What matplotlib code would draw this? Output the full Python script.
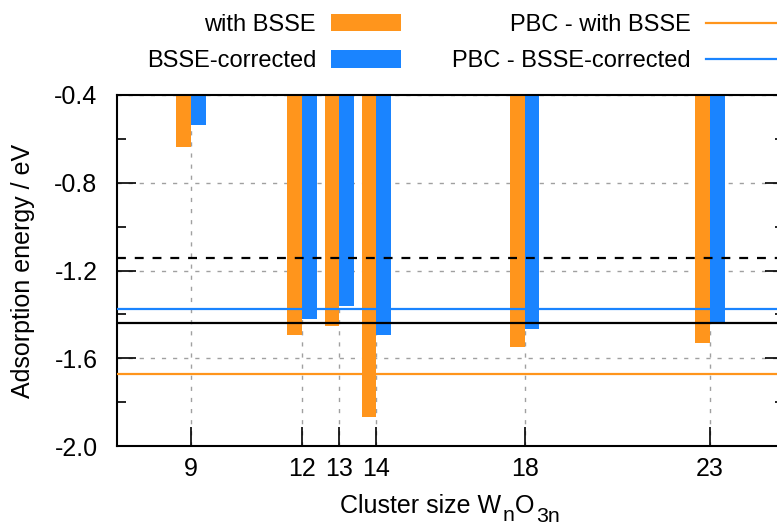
import matplotlib
matplotlib.use("Agg")
import matplotlib.pyplot as plt
from matplotlib.ticker import MultipleLocator, FixedLocator

plt.rcParams['font.family'] = ['Liberation Sans', 'DejaVu Sans']

# cluster sizes and adsorption energies (eV)
sizes = [9, 12, 13, 14, 18, 23]
e_with_bsse = [-0.639, -1.496, -1.455, -1.869, -1.550, -1.530]
e_bsse_corr = [-0.539, -1.420, -1.363, -1.492, -1.468, -1.438]

# reference lines
pbc_with_bsse = -1.672
pbc_bsse_corr = -1.374
ref_solid = -1.441
ref_dashed = -1.142

y_ticks = [-2.0, -1.6, -1.2, -0.8, -0.4]
y_labels = ['-2.0', '-1.6', '-1.2', '-0.8', '-0.4']

orange = '#ff951c'
blue = '#1a84ff'
bar_w = 0.4
fs = 18

fig = plt.figure(figsize=(7.77, 5.25), dpi=100)
ax = fig.add_axes([117 / 777, 1 - 446 / 525, (784 - 117) / 777, (446 - 95) / 525])

b1 = ax.bar(sizes, e_with_bsse, width=-bar_w, align='edge', color=orange,
            zorder=2, label='with BSSE')
b2 = ax.bar(sizes, e_bsse_corr, width=bar_w, align='edge', color=blue,
            zorder=2, label='BSSE-corrected')

l1 = ax.axhline(pbc_with_bsse, color=orange, lw=1.6, zorder=3, label='PBC - with BSSE')
l2 = ax.axhline(pbc_bsse_corr, color=blue, lw=1.6, zorder=3, label='PBC - BSSE-corrected')
ax.axhline(ref_solid, color='black', lw=1.6, zorder=3)
ax.axhline(ref_dashed, color='black', lw=1.6, ls=(0, (4, 4)), zorder=3)

ax.set_xlim(7, 25)
ax.set_ylim(-2.0, -0.4)
ax.xaxis.set_major_locator(FixedLocator(sizes))
ax.set_yticks(y_ticks)
ax.set_yticklabels(y_labels)
ax.yaxis.set_minor_locator(MultipleLocator(0.2))

ax.tick_params(axis='both', which='major', direction='in', length=14, width=1.2,
               labelsize=fs, right=True, top=False)
ax.tick_params(axis='y', which='minor', direction='in', length=6.5, width=1.2, right=True)
ax.tick_params(axis='x', pad=8)
ax.tick_params(axis='y', pad=14)

ax.grid(True, which='major', color='#a0a0a0', ls=(0, (3, 5)), lw=1.0, zorder=1)
ax.set_axisbelow(True)

for s in ax.spines.values():
    s.set_linewidth(1.5)

ax.set_ylabel('Adsorption energy / eV', fontsize=fs)
ax.yaxis.set_label_coords(-82 / 667, 0.5)

# x label with gnuplot-like subscripts, chained pieces
t1 = ax.annotate('Cluster size W', xy=(0.5, 0), xycoords='axes fraction',
                 xytext=(0, -67), textcoords='offset pixels', fontsize=fs,
                 ha='left', va='baseline')
t2 = ax.annotate('n', xy=(1, 0), xycoords=t1, xytext=(1, -7), textcoords='offset pixels',
                 fontsize=fs * 0.85, ha='left', va='bottom')
t3 = ax.annotate('O', xy=(1, 0), xycoords=t2, xytext=(1, 7), textcoords='offset pixels',
                 fontsize=fs, ha='left', va='bottom')
t4 = ax.annotate('3n', xy=(1, 0), xycoords=t3, xytext=(1, -8), textcoords='offset pixels',
                 fontsize=fs * 0.85, ha='left', va='bottom')

fig.legend(handles=[b1, b2, l1, l2], ncol=2, markerfirst=False, frameon=False,
           loc='upper right', bbox_to_anchor=(776 / 777, 1 - 14 / 525),
           fontsize=17, handlelength=2.97, handleheight=0.76, handletextpad=0.64,
           columnspacing=2.15, labelspacing=0.6, borderpad=0, borderaxespad=0)

# center the x label under the axes
fig.canvas.draw()
r = fig.canvas.get_renderer()
x_left = t1.get_window_extent(r).x0
x_right = t4.get_window_extent(r).x1
t1.xyann = (-(x_right - x_left) / 2 - 0.5, -67)

fig.savefig('out.png', dpi=100)
